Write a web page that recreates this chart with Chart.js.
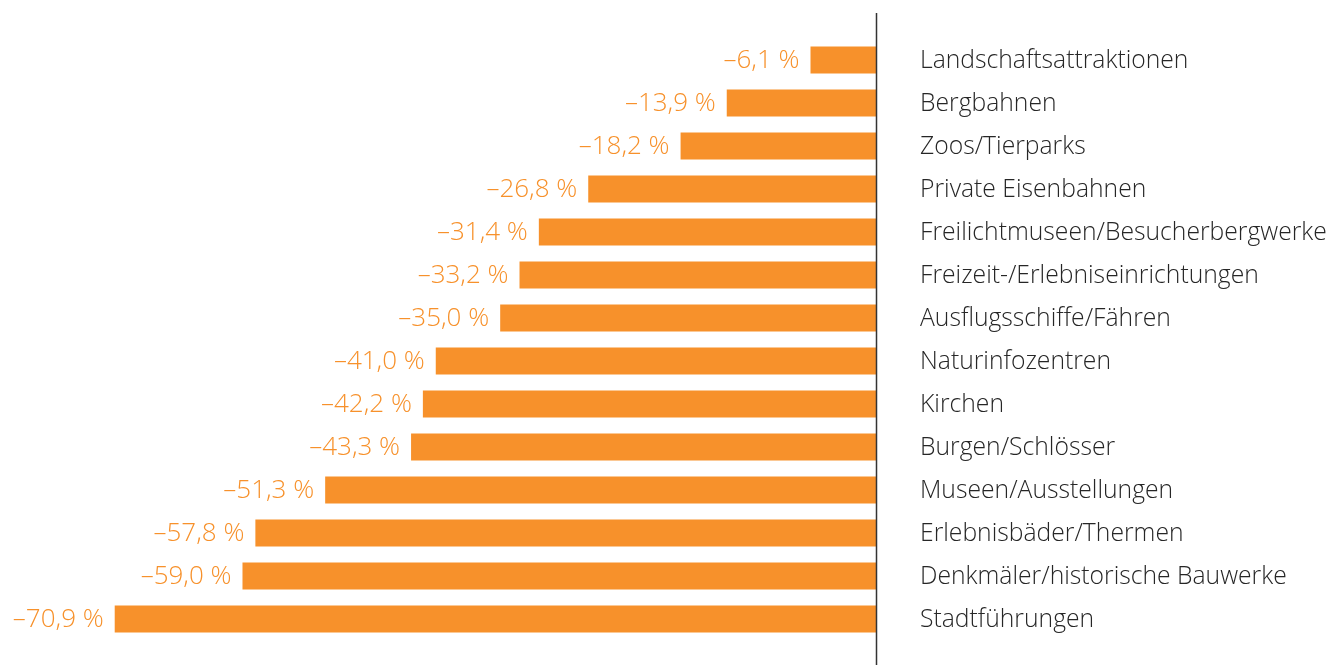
<!DOCTYPE html>
<html>
<head>
<meta charset="utf-8">
<script src="https://cdn.jsdelivr.net/npm/chart.js@4"></script>
<style>
  html, body { margin: 0; padding: 0; background: #fff; }
  #wrap { width: 1329px; height: 665px; position: relative; }
</style>
</head>
<body>
<div id="wrap"><canvas id="chart"></canvas></div>
<script>
// categories and values (percent change)
const categories = [
  "Landschaftsattraktionen", "Bergbahnen", "Zoos/Tierparks", "Private Eisenbahnen",
  "Freilichtmuseen/Besucherbergwerke", "Freizeit-/Erlebniseinrichtungen",
  "Ausflugsschiffe/Fähren", "Naturinfozentren", "Kirchen", "Burgen/Schlösser",
  "Museen/Ausstellungen", "Erlebnisbäder/Thermen", "Denkmäler/historische Bauwerke",
  "Stadtführungen"
];
const values = [-6.1, -13.9, -18.2, -26.8, -31.4, -33.2, -35.0, -41.0, -42.2, -43.3, -51.3, -57.8, -59.0, -70.9];

const orange = "#f7912b";
const textGray = "#262626";
const fontFamily = "'Open Sans', sans-serif";

function fmt(v) {
  return "\u2013" + Math.abs(v).toFixed(1).replace(".", ",") + " %";
}

// value labels left of each bar, category names right of the zero line, and the zero line
const extras = {
  id: "extras",
  afterDatasetsDraw(chart) {
    const ctx = chart.ctx;
    const meta = chart.getDatasetMeta(0);
    const x0 = chart.scales.x.getPixelForValue(0);
    ctx.save();
    ctx.textBaseline = "middle";
    meta.data.forEach((bar, i) => {
      ctx.font = "300 26px " + fontFamily;
      ctx.fillStyle = orange;
      ctx.textAlign = "right";
      ctx.fillText(fmt(values[i]), bar.x - 11, bar.y + 1);
      // category names: slightly condensed like the original typeface
      ctx.save();
      ctx.translate(x0 + 44, bar.y + 1);
      ctx.scale(0.95, 1);
      ctx.font = "300 26px " + fontFamily;
      ctx.fillStyle = textGray;
      ctx.textAlign = "left";
      ctx.fillText(categories[i], 0, 0);
      ctx.restore();
    });
    ctx.strokeStyle = "#333";
    ctx.lineWidth = 1.5;
    ctx.beginPath();
    ctx.moveTo(x0 + 0.5, 13);
    ctx.lineTo(x0 + 0.5, chart.height);
    ctx.stroke();
    ctx.restore();
  }
};

new Chart(document.getElementById("chart"), {
  type: "bar",
  data: {
    labels: categories,
    datasets: [{
      data: values,
      backgroundColor: orange,
      categoryPercentage: 1,
      barPercentage: 0.63
    }]
  },
  options: {
    indexAxis: "y",
    responsive: true,
    maintainAspectRatio: false,
    animation: false,
    layout: { padding: { left: 17, top: 38.5, bottom: 24.5, right: 453 } },
    plugins: { legend: { display: false }, tooltip: { enabled: false } },
    scales: {
      x: { display: false, min: -80, max: 0 },
      y: { display: false }
    }
  },
  plugins: [extras]
});
</script>
</body>
</html>
